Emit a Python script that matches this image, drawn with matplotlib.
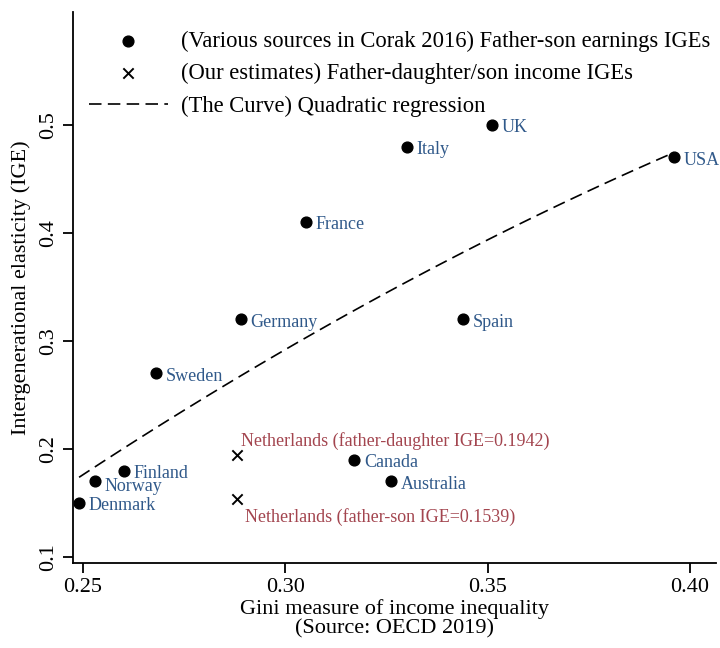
import numpy as np
import matplotlib
matplotlib.use("Agg")
import matplotlib.pyplot as plt

plt.rcParams['font.family'] = ['Liberation Serif', 'DejaVu Serif']

# Corak 2016 father-son earnings IGEs vs OECD Gini
countries = ["Denmark", "Norway", "Finland", "Sweden", "Germany", "France",
             "Canada", "Australia", "Italy", "Spain", "UK", "USA"]
gini = [0.249, 0.253, 0.260, 0.268, 0.289, 0.305,
        0.317, 0.326, 0.330, 0.344, 0.351, 0.396]
ige = [0.15, 0.17, 0.18, 0.27, 0.32, 0.41,
       0.19, 0.17, 0.48, 0.32, 0.50, 0.47]

# our estimates for the Netherlands
nl_gini = [0.288, 0.288]
nl_ige = [0.1942, 0.1539]
nl_labels = ["Netherlands (father-daughter IGE=0.1942)",
             "Netherlands (father-son IGE=0.1539)"]

blue = "#30598a"
red = "#a3454f"

fig = plt.figure(figsize=(7.2, 6.48), dpi=100)
ax = fig.add_axes([0.1014, 0.1312, 0.893, 0.8503])

# quadratic regression over the Corak points
coef = np.polyfit(gini, ige, 2)
xs = np.linspace(min(gini), max(gini), 100)
ax.plot(xs, np.polyval(coef, xs), color="black", ls=(0, (7.5, 3.8)), lw=1.2,
        label="(The Curve) Quadratic regression", zorder=1)

ax.scatter(gini, ige, s=60, color="black", zorder=3,
           label="(Various sources in Corak 2016) Father-son earnings IGEs")
ax.scatter(nl_gini, nl_ige, s=55, marker="x", color="black", lw=1.4, zorder=3,
           label="(Our estimates) Father-daughter/son income IGEs")

for c, x, y in zip(countries, gini, ige):
    dy = -2
    if c == "Norway":
        dy = -4
    ax.annotate(c, (x, y), xytext=(7, dy), textcoords="offset points",
                va="center", ha="left", color=blue, fontsize=13)

ax.annotate(nl_labels[0], (nl_gini[0], nl_ige[0]), xytext=(3, 10),
            textcoords="offset points", va="center", ha="left", color=red, fontsize=13)
ax.annotate(nl_labels[1], (nl_gini[1], nl_ige[1]), xytext=(6, -13),
            textcoords="offset points", va="center", ha="left", color=red, fontsize=13)

ax.set_xlim(0.2475, 0.4064)
ax.set_ylim(0.0944, 0.6046)
ax.set_xticks([0.25, 0.30, 0.35, 0.40])
ax.set_xticklabels(["0.25", "0.30", "0.35", "0.40"])
ax.set_yticks([0.1, 0.2, 0.3, 0.4, 0.5])
ax.set_yticklabels(["0.1", "0.2", "0.3", "0.4", "0.5"], rotation=90, va="center")
ax.tick_params(labelsize=16, length=7, width=1.3)
for s in ["top", "right"]:
    ax.spines[s].set_visible(False)
for s in ["left", "bottom"]:
    ax.spines[s].set_linewidth(1.3)

ax.set_xlabel("Gini measure of income inequality\n(Source: OECD 2019)", fontsize=16,
              linespacing=1.0, labelpad=2)
ax.set_ylabel("Intergenerational elasticity (IGE)", fontsize=16, labelpad=6)

h, l = ax.get_legend_handles_labels()
order = [1, 2, 0]
ax.legend([h[i] for i in order], [l[i] for i in order], loc="upper left",
          bbox_to_anchor=(0.0, 0.995), frameon=False, fontsize=16.3,
          handlelength=3.5, handletextpad=0.55, labelspacing=0.5, borderaxespad=0.3)

fig.savefig("out.png", dpi=100)
